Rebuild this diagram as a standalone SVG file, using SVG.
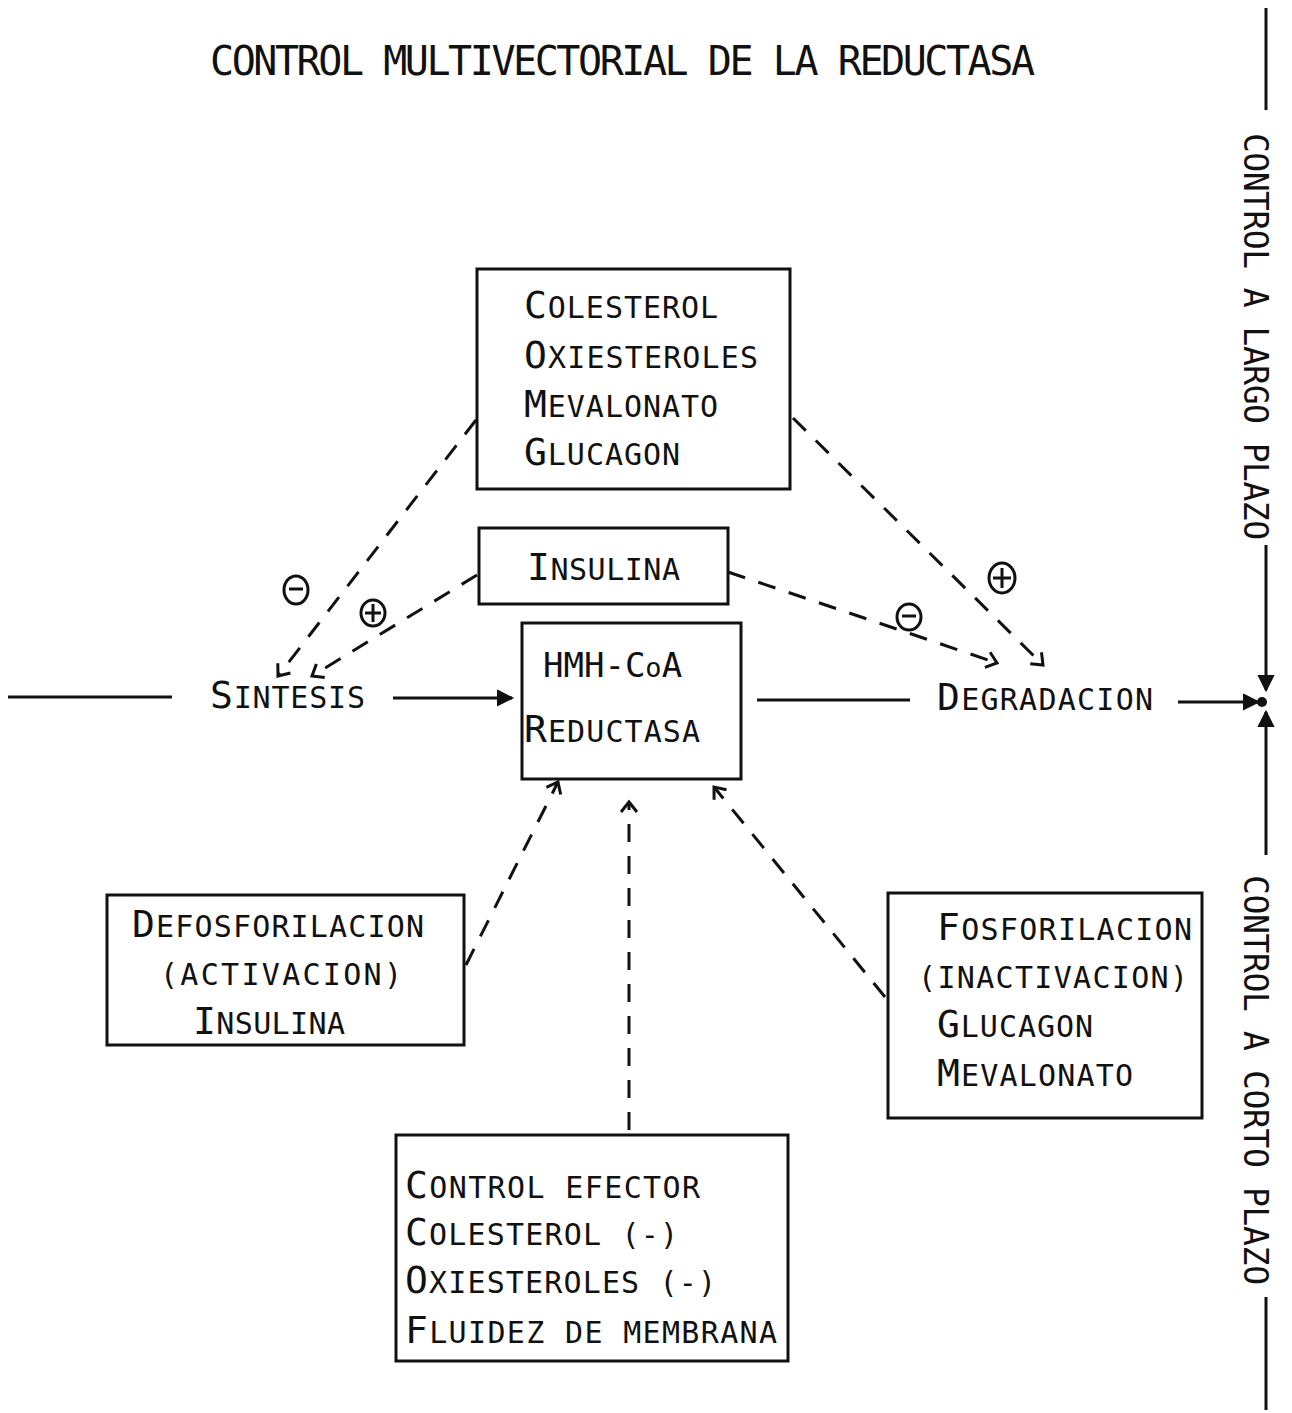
<svg xmlns="http://www.w3.org/2000/svg" width="1292" height="1413" viewBox="0 0 1292 1413">
<style>
text{font-family:"DejaVu Sans Mono","Liberation Mono",monospace;fill:#111;font-size:30px}
.b{font-size:38px}
.t{font-size:40px}
.v{font-size:33px}
.h{font-size:34px}
.o{font-size:27px}
.box{fill:none;stroke:#111;stroke-width:3}
.ln{fill:none;stroke:#111;stroke-width:3}
.d{fill:none;stroke:#111;stroke-width:3;stroke-dasharray:18 14}
.sg{fill:none;stroke:#111;stroke-width:3}
</style>
<defs>
<marker id="v" markerUnits="userSpaceOnUse" markerWidth="24" markerHeight="24" refX="14" refY="12" orient="auto">
<path d="M4,4 L14,12 L4,20" fill="none" stroke="#111" stroke-width="3"/>
</marker>
<marker id="f" markerUnits="userSpaceOnUse" markerWidth="24" markerHeight="24" refX="18" refY="12" orient="auto">
<path d="M4,5 L18,12 L4,19 Z" fill="#111" stroke="#111" stroke-width="2"/>
</marker>
</defs>
<rect width="1292" height="1413" fill="#fff"/>
<text id="title" class="t" x="210" y="75" textLength="825" lengthAdjust="spacing">CONTROL  MULTIVECTORIAL  DE  LA  REDUCTASA</text>

<g id="n-top">
<rect class="box" x="477" y="269" width="313" height="220"/>
<text x="524" y="318" textLength="194" lengthAdjust="spacing"><tspan class="b">C</tspan>OLESTEROL</text>
<text x="524" y="368" textLength="234" lengthAdjust="spacing"><tspan class="b">O</tspan>XIESTEROLES</text>
<text x="524" y="417" textLength="194" lengthAdjust="spacing"><tspan class="b">M</tspan>EVALONATO</text>
<text x="524" y="465" textLength="156" lengthAdjust="spacing"><tspan class="b">G</tspan>LUCAGON</text>
</g>
<g id="n-insulina">
<rect class="box" x="479" y="528" width="249" height="76"/>
<text x="527" y="580" textLength="153" lengthAdjust="spacing"><tspan class="b">I</tspan>NSULINA</text>
</g>
<g id="n-hmg">
<rect class="box" x="522" y="623" width="219" height="156"/>
<text class="h" x="543" y="677">HMH-C<tspan class="o">o</tspan>A</text>
<text x="524" y="742" textLength="176" lengthAdjust="spacing"><tspan class="b">R</tspan>EDUCTASA</text>
</g>
<g id="n-sintesis">
<text x="210" y="708" textLength="155" lengthAdjust="spacing"><tspan class="b">S</tspan>INTESIS</text>
</g>
<g id="n-degradacion">
<text x="937" y="710" textLength="216" lengthAdjust="spacing"><tspan class="b">D</tspan>EGRADACION</text>
</g>
<g id="n-defos">
<rect class="box" x="107" y="895" width="357" height="150"/>
<text x="132" y="937" textLength="292" lengthAdjust="spacing"><tspan class="b">D</tspan>EFOSFORILACION</text>
<text x="160" y="985" textLength="242" lengthAdjust="spacing">(ACTIVACION)</text>
<text x="193" y="1034" textLength="152" lengthAdjust="spacing"><tspan class="b">I</tspan>NSULINA</text>
</g>
<g id="n-fos">
<rect class="box" x="888" y="893" width="314" height="225"/>
<text x="937" y="940" textLength="255" lengthAdjust="spacing"><tspan class="b">F</tspan>OSFORILACION</text>
<text x="918" y="988" textLength="270" lengthAdjust="spacing">(INACTIVACION)</text>
<text x="937" y="1037" textLength="156" lengthAdjust="spacing"><tspan class="b">G</tspan>LUCAGON</text>
<text x="937" y="1086" textLength="196" lengthAdjust="spacing"><tspan class="b">M</tspan>EVALONATO</text>
</g>
<g id="n-efector">
<rect class="box" x="396" y="1135" width="392" height="226"/>
<text x="405" y="1198" textLength="295" lengthAdjust="spacing"><tspan class="b">C</tspan>ONTROL EFECTOR</text>
<text x="405" y="1245" textLength="273" lengthAdjust="spacing"><tspan class="b">C</tspan>OLESTEROL (-)</text>
<text x="405" y="1293" textLength="311" lengthAdjust="spacing"><tspan class="b">O</tspan>XIESTEROLES (-)</text>
<text x="405" y="1343" textLength="372" lengthAdjust="spacing"><tspan class="b">F</tspan>LUIDEZ DE MEMBRANA</text>
</g>
<g id="n-largo">
<text class="v" transform="translate(1244,133) rotate(90)" x="0" y="0" textLength="407" lengthAdjust="spacing">CONTROL A LARGO PLAZO</text>
</g>
<g id="n-corto">
<text class="v" transform="translate(1244,875) rotate(90)" x="0" y="0" textLength="410" lengthAdjust="spacing">CONTROL A CORTO PLAZO</text>
</g>

<g id="connectors">
<line class="ln" x1="8" y1="697" x2="172" y2="697"/>
<line class="ln" x1="393" y1="698" x2="512" y2="698" marker-end="url(#f)"/>
<line class="ln" x1="757" y1="700" x2="910" y2="700"/>
<line class="ln" x1="1178" y1="702" x2="1258" y2="702" marker-end="url(#f)"/>
<circle cx="1262" cy="702" r="5" fill="#111"/>
<line class="ln" x1="1266" y1="8" x2="1266" y2="110"/>
<line class="ln" x1="1266" y1="545" x2="1266" y2="690" marker-end="url(#f)"/>
<line class="ln" x1="1266" y1="855" x2="1266" y2="712" marker-end="url(#f)"/>
<line class="ln" x1="1266" y1="1297" x2="1266" y2="1410"/>

<line class="d" x1="476" y1="420" x2="278" y2="676" marker-end="url(#v)"/>
<line class="d" x1="477" y1="575" x2="312" y2="676" marker-end="url(#v)"/>
<line class="d" x1="728" y1="572" x2="997" y2="663" marker-end="url(#v)"/>
<line class="d" x1="793" y1="418" x2="1043" y2="665" marker-end="url(#v)"/>
<line class="d" x1="466" y1="965" x2="558" y2="782" marker-end="url(#v)"/>
<line class="d" x1="629" y1="1130" x2="629" y2="802" marker-end="url(#v)"/>
<line class="d" x1="885" y1="997" x2="714" y2="787" marker-end="url(#v)"/>

<g id="sign-minus-1"><ellipse class="sg" cx="296" cy="590" rx="12" ry="14"/><line class="sg" x1="289" y1="589" x2="303" y2="589"/></g>
<g id="sign-plus-1"><ellipse class="sg" cx="373" cy="613" rx="12" ry="13"/><line class="sg" x1="365" y1="613" x2="381" y2="613"/><line class="sg" x1="373" y1="604" x2="373" y2="622"/></g>
<g id="sign-minus-2"><ellipse class="sg" cx="909" cy="617" rx="12" ry="13"/><line class="sg" x1="902" y1="616" x2="916" y2="616"/></g>
<g id="sign-plus-2"><ellipse class="sg" cx="1002" cy="578" rx="13" ry="15"/><line class="sg" x1="993" y1="578" x2="1011" y2="578"/><line class="sg" x1="1002" y1="568" x2="1002" y2="588"/></g>
</g>
</svg>
